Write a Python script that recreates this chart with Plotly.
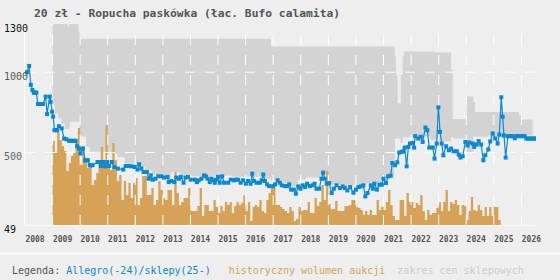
import numpy as np
import plotly.graph_objects as go

# ---------------- data ----------------
title = "20 zł - Ropucha paskówka (łac. Bufo calamita)"
years = list(range(2008, 2027))
y_ticks = [1300, 1000, 500, 49]
y_tick_colors = ["#111111", "#555555", "#666666", "#111111"]
last_label = "41"

price_t = [2008.07, 2008.15, 2008.21, 2008.27, 2008.32, 2008.37, 2008.41, 2008.47, 2008.53, 2008.59,
           2008.65, 2008.75, 2008.80, 2008.90, 2008.93, 2008.98, 2009.02, 2009.07, 2009.12, 2009.16,
           2009.23, 2009.33, 2009.42, 2009.50, 2009.60, 2009.66, 2009.72, 2009.78, 2009.84, 2009.89,
           2009.96, 2010.01, 2010.10, 2010.18, 2010.23, 2010.28, 2010.35, 2010.40, 2010.45, 2010.63,
           2010.71, 2010.75, 2010.83, 2010.90, 2010.98, 2011.05, 2011.15, 2011.24, 2011.37, 2011.56,
           2011.65, 2011.77, 2011.86, 2011.98, 2012.08, 2012.14, 2012.22, 2012.30, 2012.42, 2012.49,
           2012.56, 2012.63, 2012.73, 2012.83, 2012.95, 2013.04, 2013.17, 2013.21, 2013.31, 2013.41,
           2013.49, 2013.58, 2013.65, 2013.75, 2013.82, 2013.91, 2014.01, 2014.16, 2014.23, 2014.30,
           2014.40, 2014.49, 2014.56, 2014.62, 2014.70, 2014.76, 2014.82, 2014.88, 2014.94, 2015.00,
           2015.06, 2015.15, 2015.22, 2015.37, 2015.46, 2015.58, 2015.64, 2015.73, 2015.82, 2015.91,
           2016.01, 2016.09, 2016.18, 2016.24, 2016.30, 2016.40, 2016.52, 2016.58, 2016.64, 2016.70,
           2016.78, 2016.85, 2017.00, 2017.07, 2017.16, 2017.24, 2017.31, 2017.42, 2017.51, 2017.58,
           2017.65, 2017.75, 2017.82, 2017.91, 2017.99, 2018.07, 2018.16, 2018.23, 2018.33, 2018.43,
           2018.50, 2018.57, 2018.67, 2018.75, 2018.81, 2018.87, 2018.94, 2019.03, 2019.12, 2019.20,
           2019.30, 2019.42, 2019.52, 2019.60, 2019.69, 2019.79, 2019.91, 2020.00, 2020.09, 2020.17,
           2020.27, 2020.34, 2020.42, 2020.54, 2020.61, 2020.67, 2020.76, 2020.85, 2020.94, 2021.00,
           2021.09, 2021.17, 2021.26, 2021.32, 2021.42, 2021.50, 2021.57, 2021.66, 2021.72, 2021.77,
           2021.84, 2021.90, 2021.96, 2022.06, 2022.11, 2022.15, 2022.26, 2022.35, 2022.42, 2022.52,
           2022.59, 2022.66, 2022.79, 2022.85, 2022.93, 2022.99, 2023.05, 2023.11, 2023.17, 2023.27,
           2023.37, 2023.45, 2023.54, 2023.66, 2023.73, 2023.79, 2023.87, 2023.97, 2024.05, 2024.11,
           2024.24, 2024.29, 2024.38, 2024.45, 2024.54, 2024.62, 2024.69, 2024.80, 2024.87, 2024.96,
           2025.05, 2025.14, 2025.20, 2025.27, 2025.32, 2025.36, 2025.43, 2025.51, 2025.57, 2025.62,
           2025.67, 2025.76, 2025.81, 2025.86, 2025.92, 2025.98, 2026.05, 2026.12, 2026.18, 2026.24,
           2026.30, 2026.36, 2026.42, 2026.48, 2026.54, 2026.60]
price_v = [1000, 1039, 921, 889, 873, 873, 873, 802, 802, 802,
           802, 848, 739, 848, 816, 754, 723, 639, 639, 639,
           664, 650, 587, 583, 573, 573, 573, 573, 573, 539,
           525, 494, 525, 452, 452, 452, 421, 421, 421, 441,
           441, 416, 441, 414, 441, 416, 441, 410, 400, 394,
           416, 416, 414, 410, 394, 427, 400, 379, 379, 337,
           358, 331, 337, 352, 352, 344, 348, 316, 323, 316,
           344, 337, 348, 312, 344, 348, 331, 331, 316, 327,
           337, 358, 352, 337, 316, 337, 327, 312, 331, 348,
           312, 352, 312, 312, 331, 327, 331, 331, 312, 327,
           306, 323, 306, 369, 323, 312, 312, 327, 364, 323,
           302, 291, 291, 302, 327, 312, 296, 291, 291, 302,
           269, 269, 244, 289, 275, 296, 285, 306, 291, 296,
           306, 275, 275, 337, 375, 337, 306, 310, 248, 275,
           296, 279, 289, 279, 264, 285, 250, 269, 285, 289,
           296, 227, 248, 296, 275, 306, 269, 300, 300, 337,
           310, 352, 356, 435, 421, 439, 500, 504, 508, 531,
           414, 535, 556, 560, 531, 602, 587, 598, 566, 656,
           639, 531, 531, 462, 556, 781, 629, 556, 483, 539,
           514, 525, 508, 508, 487, 469, 477, 566, 544, 562,
           556, 535, 550, 571, 550, 452, 483, 519, 569, 619,
           587, 556, 612, 844, 723, 606, 469, 602, 602, 602,
           602, 589, 602, 602, 602, 602, 602, 602, 587, 587,
           587, 587, 587, 587, 587, 587]

vol_start = 2009.0  # first monthly bar
volume = [84, 72, 94, 85, 79, 74, 54, 62, 69, 72, 82, 97, 60, 79, 65, 57, 62, 40, 45, 52,
          62, 78, 59, 100, 60, 55, 82, 65, 44, 50, 25, 44,
          30, 42, 27, 42, 47, 20, 27, 49, 49, 30, 30, 37, 20, 25, 44, 35, 27, 25, 35, 35,
          20, 53, 32, 20, 23, 27, 27, 37, 14, 14, 14, 19, 37, 9, 20, 20, 14, 14, 25, 18,
          12, 19, 14, 23, 20, 23, 12, 19,
          23, 20, 22, 30, 14, 23, 4, 18, 20, 18, 25, 14, 12, 25, 32, 37, 37, 20, 20, 18,
          16, 14, 12, 18, 14, 4, 6, 18, 14, 15, 15, 23, 12, 12, 27, 19, 23, 40, 25, 54,
          21, 16, 16, 24, 14,
          14, 14, 19, 19, 20, 25, 25, 18, 17, 15, 10, 14, 10, 15, 10, 10, 25, 15, 18, 15,
          23, 35, 20, 9, 5, 5, 25, 25, 9, 32, 23, 23, 17, 22, 20, 30, 14, 5, 15, 10,
          12, 12, 17, 23, 14, 23,
          35, 14, 23, 21, 25, 20, 10, 20, 19, 5, 14, 28, 15, 14, 20, 15, 9, 18, 9, 18,
          9, 18, 18, 5]

band_hi_t = [2009.00, 2009.55, 2009.60, 2009.94, 2009.98, 2010.02, 2016.92, 2021.41, 2021.45,
             2021.51, 2021.63, 2021.70, 2021.74, 2022.84, 2023.45, 2023.51, 2024.02, 2024.26,
             2024.32, 2025.92, 2025.99, 2026.41]
band_hi = [1400, 1283, 1400, 1254, 1233, 1208, 1160, 1097, 983,
           807, 983, 1097, 1129, 1123, 1014, 708, 848, 816,
           752, 733, 706, 706]
band_lo_t = [2009.00, 2009.08, 2009.20, 2009.32, 2009.44, 2009.62, 2009.98, 2010.22, 2010.35,
             2010.98, 2011.35, 2011.62, 2011.90, 2012.35, 2012.60, 2013.00, 2013.30, 2013.60,
             2014.00, 2014.80, 2015.50, 2016.60, 2016.90, 2017.30, 2017.60, 2017.90, 2018.20,
             2018.70, 2018.95, 2019.50, 2019.90, 2020.40, 2021.00, 2021.38, 2021.42, 2021.62,
             2021.70, 2022.40, 2022.70, 2023.00, 2023.45, 2023.52, 2024.02, 2024.26, 2025.92,
             2026.41]
band_lo = [796, 743, 712, 681, 646, 691, 600, 535, 505,
           494, 470, 430, 410, 390, 360, 345, 379, 355,
           352, 355, 350, 340, 327, 310, 290, 330, 345,
           355, 300, 290, 300, 310, 340, 420, 587, 560,
           595, 600, 580, 570, 598, 587, 500, 598, 608,
           608]

# ---------------- style ----------------
BG = "#eeeeee"
BAND = "#d3d3d3"
ORANGE = "#d6a257"
BLUE = "#0a88d0"
MONO = "DejaVu Sans Mono"
X0, X1 = 2008.0, 2026.53
Y0, Y1 = 49, 1300

fig = go.Figure()

# shop price range band
fig.add_trace(go.Scatter(x=band_lo_t, y=band_lo, mode="lines",
                         line=dict(width=0, shape="hv"), hoverinfo="skip", showlegend=False))
fig.add_trace(go.Scatter(x=band_hi_t, y=band_hi, mode="lines", fill="tonexty", fillcolor=BAND,
                         line=dict(width=0, shape="hv"), hoverinfo="skip", showlegend=False))

# auction volume: monthly bars drawn as one stepped area on a secondary scale
month_edges = vol_start + np.arange(len(volume) + 1) / 12.0
vol_steps = list(volume) + [volume[-1]]
fig.add_trace(go.Scatter(x=month_edges, y=vol_steps, mode="lines", yaxis="y2",
                         line=dict(width=0, shape="hv"), fill="tozeroy", fillcolor=ORANGE,
                         hoverinfo="skip", showlegend=False))

# grid lines (drawn over bars, below price line)
grid = dict(color="white", width=1, dash="10px,10px")
for yr in years[1:]:
    fig.add_trace(go.Scatter(x=[yr, yr], y=[Y0, Y1], mode="lines", line=grid, yaxis="y3",
                             hoverinfo="skip", showlegend=False))
for v in y_ticks[1:3]:
    fig.add_trace(go.Scatter(x=[X0, X1], y=[v, v], mode="lines", line=grid, yaxis="y3",
                             hoverinfo="skip", showlegend=False))

# price line
fig.add_trace(go.Scatter(x=price_t, y=price_v, mode="lines+markers", yaxis="y3",
                         line=dict(color=BLUE, width=1.2),
                         marker=dict(symbol="square", size=4, color=BLUE, line=dict(width=0)),
                         showlegend=False))

annotations = []
for v, c in zip(y_ticks, y_tick_colors):
    annotations.append(dict(xref="paper", yref="y", x=-23 / 511, y=v, yshift=-4,
                            text=str(v), showarrow=False, xanchor="left", yanchor="middle",
                            font=dict(family=MONO, size=10, color=c)))
annotations.append(dict(xref="x", yref="y3", x=price_t[-1], y=price_v[-1], xshift=2, yshift=10,
                        text=last_label, showarrow=False, xanchor="center", yanchor="middle",
                        font=dict(family="DejaVu Sans", size=11, color=ORANGE)))
legend_text = ("<span style='color:#555555'>Legenda: </span>"
               f"<span style='color:{BLUE}'>Allegro(-24)/sklepy(25-)</span>&nbsp;&nbsp;&nbsp;"
               f"<span style='color:{ORANGE}'>historyczny wolumen aukcji</span>&nbsp;&nbsp;"
               "<span style='color:#cccccc'>zakres cen sklepowych</span>")
annotations.append(dict(xref="paper", yref="paper", x=-15 / 511, y=-45 / 201, text=legend_text,
                        showarrow=False, xanchor="left", yanchor="middle",
                        font=dict(family=MONO, size=10)))

fig.update_layout(
    width=560, height=280,
    margin=dict(l=25, r=24, t=24, b=55, pad=0),
    paper_bgcolor=BG, plot_bgcolor=BG,
    title=dict(text=title, x=34 / 560, xanchor="left", y=1 - 13.5 / 280, yanchor="middle",
               font=dict(family=MONO, size=11.3, color="#555555", weight="bold")),
    xaxis=dict(range=[X0, X1], tickvals=years, ticktext=[str(y) for y in years],
               showgrid=False, zeroline=False, showline=True, linecolor="white", linewidth=1,
               ticks="", ticklabelshift=10, ticklabelstandoff=6,
               tickfont=dict(family=MONO, size=8, color="#555555", weight="bold")),
    yaxis=dict(range=[Y0, Y1], showgrid=False, zeroline=False, showticklabels=False,
               showline=True, linecolor="white", linewidth=1, ticks=""),
    yaxis2=dict(range=[0, 201], overlaying="y", visible=False),
    yaxis3=dict(range=[Y0, Y1], overlaying="y", visible=False),
    annotations=annotations,
    shapes=[dict(type="rect", xref="paper", yref="paper", x0=-25 / 511, x1=535 / 511,
                 y0=-27 / 201, y1=-30 / 201, fillcolor="#f8f8f8", line=dict(width=0),
                 layer="below")],
    showlegend=False,
)

fig.write_html("out.html")
